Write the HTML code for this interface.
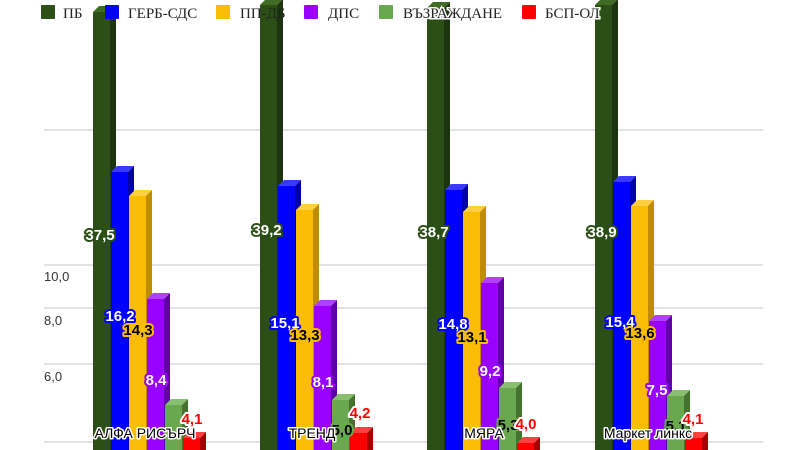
<!DOCTYPE html>
<html><head><meta charset="utf-8"><style>
body{margin:0;background:#fff}
svg{display:block}
.v{font-family:"Liberation Sans",sans-serif;font-size:15px;font-weight:bold;paint-order:stroke;stroke-width:4px;stroke-linejoin:round;text-anchor:middle}
.c{font-family:"Liberation Sans",sans-serif;font-size:14px;fill:#000;stroke:#fff;stroke-width:3px;paint-order:stroke;stroke-linejoin:round;text-anchor:middle}
.lg{font-family:"Liberation Serif",serif;font-size:15px;fill:#222}
.ax{font-family:"Liberation Sans",sans-serif;font-size:13px;fill:#333}
</style></head><body>
<svg width="800" height="450" xmlns="http://www.w3.org/2000/svg">
<g stroke="#d9d9d9" stroke-width="1.5">
<line x1="44" y1="130" x2="763" y2="130"/><line x1="44" y1="265" x2="763" y2="265"/>
<line x1="44" y1="308" x2="763" y2="308"/><line x1="44" y1="364" x2="763" y2="364"/>
<line x1="44" y1="442" x2="763" y2="442"/>
</g>
<text class="ax" x="44" y="281">10,0</text><text class="ax" x="44" y="325">8,0</text><text class="ax" x="44" y="381">6,0</text>

<g>
<polygon points="93,12 99,6 116,6 110,12" fill="#3f6b22"/><polygon points="110,12 116,6 116,450 110,450" fill="#1c3510"/><rect x="93" y="12" width="17" height="438" fill="#2b4f16"/>
<polygon points="111,172 117,166 134,166 128,172" fill="#3a3aff"/><polygon points="128,172 134,166 134,450 128,450" fill="#0000a8"/><rect x="111" y="172" width="17" height="278" fill="#0000ff"/>
<polygon points="129,196 135,190 152,190 146,196" fill="#ffcf40"/><polygon points="146,196 152,190 152,450 146,450" fill="#c08c00"/><rect x="129" y="196" width="17" height="254" fill="#fbbc04"/>
<polygon points="147,299 153,293 170,293 164,299" fill="#b040ff"/><polygon points="164,299 170,293 170,450 164,450" fill="#6200a8"/><rect x="147" y="299" width="17" height="151" fill="#9900ff"/>
<polygon points="165,405 171,399 188,399 182,405" fill="#88c070"/><polygon points="182,405 188,399 188,450 182,450" fill="#45722f"/><rect x="165" y="405" width="17" height="45" fill="#6aa84f"/>
<polygon points="183,438 189,432 206,432 200,438" fill="#ff4040"/><polygon points="200,438 206,432 206,450 200,450" fill="#a80000"/><rect x="183" y="438" width="17" height="12" fill="#ff0000"/>
</g>
<g>
<polygon points="260,5 266,-1 283,-1 277,5" fill="#3f6b22"/><polygon points="277,5 283,-1 283,450 277,450" fill="#1c3510"/><rect x="260" y="5" width="17" height="445" fill="#2b4f16"/>
<polygon points="278,186 284,180 301,180 295,186" fill="#3a3aff"/><polygon points="295,186 301,180 301,450 295,450" fill="#0000a8"/><rect x="278" y="186" width="17" height="264" fill="#0000ff"/>
<polygon points="296,210 302,204 319,204 313,210" fill="#ffcf40"/><polygon points="313,210 319,204 319,450 313,450" fill="#c08c00"/><rect x="296" y="210" width="17" height="240" fill="#fbbc04"/>
<polygon points="314,306 320,300 337,300 331,306" fill="#b040ff"/><polygon points="331,306 337,300 337,450 331,450" fill="#6200a8"/><rect x="314" y="306" width="17" height="144" fill="#9900ff"/>
<polygon points="332,400 338,394 355,394 349,400" fill="#88c070"/><polygon points="349,400 355,394 355,450 349,450" fill="#45722f"/><rect x="332" y="400" width="17" height="50" fill="#6aa84f"/>
<polygon points="350,433 356,427 373,427 367,433" fill="#ff4040"/><polygon points="367,433 373,427 373,450 367,450" fill="#a80000"/><rect x="350" y="433" width="17" height="17" fill="#ff0000"/>
</g>
<g>
<polygon points="427,8 433,2 450,2 444,8" fill="#3f6b22"/><polygon points="444,8 450,2 450,450 444,450" fill="#1c3510"/><rect x="427" y="8" width="17" height="442" fill="#2b4f16"/>
<polygon points="445,190 451,184 468,184 462,190" fill="#3a3aff"/><polygon points="462,190 468,184 468,450 462,450" fill="#0000a8"/><rect x="445" y="190" width="17" height="260" fill="#0000ff"/>
<polygon points="463,212 469,206 486,206 480,212" fill="#ffcf40"/><polygon points="480,212 486,206 486,450 480,450" fill="#c08c00"/><rect x="463" y="212" width="17" height="238" fill="#fbbc04"/>
<polygon points="481,283 487,277 504,277 498,283" fill="#b040ff"/><polygon points="498,283 504,277 504,450 498,450" fill="#6200a8"/><rect x="481" y="283" width="17" height="167" fill="#9900ff"/>
<polygon points="499,388 505,382 522,382 516,388" fill="#88c070"/><polygon points="516,388 522,382 522,450 516,450" fill="#45722f"/><rect x="499" y="388" width="17" height="62" fill="#6aa84f"/>
<polygon points="517,443 523,437 540,437 534,443" fill="#ff4040"/><polygon points="534,443 540,437 540,450 534,450" fill="#a80000"/><rect x="517" y="443" width="17" height="7" fill="#ff0000"/>
</g>
<g>
<polygon points="595,5 601,-1 618,-1 612,5" fill="#3f6b22"/><polygon points="612,5 618,-1 618,450 612,450" fill="#1c3510"/><rect x="595" y="5" width="17" height="445" fill="#2b4f16"/>
<polygon points="613,182 619,176 636,176 630,182" fill="#3a3aff"/><polygon points="630,182 636,176 636,450 630,450" fill="#0000a8"/><rect x="613" y="182" width="17" height="268" fill="#0000ff"/>
<polygon points="631,206 637,200 654,200 648,206" fill="#ffcf40"/><polygon points="648,206 654,200 654,450 648,450" fill="#c08c00"/><rect x="631" y="206" width="17" height="244" fill="#fbbc04"/>
<polygon points="649,321 655,315 672,315 666,321" fill="#b040ff"/><polygon points="666,321 672,315 672,450 666,450" fill="#6200a8"/><rect x="649" y="321" width="17" height="129" fill="#9900ff"/>
<polygon points="667,396 673,390 690,390 684,396" fill="#88c070"/><polygon points="684,396 690,390 690,450 684,450" fill="#45722f"/><rect x="667" y="396" width="17" height="54" fill="#6aa84f"/>
<polygon points="685,438 691,432 708,432 702,438" fill="#ff4040"/><polygon points="702,438 708,432 708,450 702,450" fill="#a80000"/><rect x="685" y="438" width="17" height="12" fill="#ff0000"/>
</g>

<g class="v">
<text x="100" y="240" fill="#fff" stroke="#2b4f16">37,5</text>
<text x="120" y="321" fill="#fff" stroke="#0000ff">16,2</text>
<text x="138" y="335" fill="#000" stroke="#fbbc04">14,3</text>
<text x="156" y="385" fill="#fff" stroke="#9900ff">8,4</text>
<text x="192" y="424" fill="#ff0000" stroke="#fff">4,1</text>

<text x="267" y="235" fill="#fff" stroke="#2b4f16">39,2</text>
<text x="285" y="328" fill="#fff" stroke="#0000ff">15,1</text>
<text x="305" y="340" fill="#000" stroke="#fbbc04">13,3</text>
<text x="323" y="387" fill="#fff" stroke="#9900ff">8,1</text>
<text x="342" y="435" fill="#000" stroke="#6aa84f">5,0</text>
<text x="360" y="418" fill="#ff0000" stroke="#fff">4,2</text>

<text x="434" y="237" fill="#fff" stroke="#2b4f16">38,7</text>
<text x="453" y="329" fill="#fff" stroke="#0000ff">14,8</text>
<text x="472" y="342" fill="#000" stroke="#fbbc04">13,1</text>
<text x="490" y="376" fill="#fff" stroke="#9900ff">9,2</text>
<text x="508" y="430" fill="#000" stroke="#6aa84f">5,3</text>
<text x="526" y="429" fill="#ff0000" stroke="#fff">4,0</text>

<text x="602" y="237" fill="#fff" stroke="#2b4f16">38,9</text>
<text x="620" y="327" fill="#fff" stroke="#0000ff">15,4</text>
<text x="640" y="338" fill="#000" stroke="#fbbc04">13,6</text>
<text x="657" y="395" fill="#fff" stroke="#9900ff">7,5</text>
<text x="676" y="431" fill="#000" stroke="#6aa84f">5,1</text>
<text x="693" y="424" fill="#ff0000" stroke="#fff">4,1</text>
</g>
<g class="c">
<text x="145" y="438">АЛФА РИСЪРЧ</text>
<text x="312" y="438">ТРЕНД</text>
<text x="484" y="438">МЯРА</text>
<text x="648" y="438">Маркет линкс</text>
</g>

<rect x="41" y="5" width="14" height="14" rx="1" fill="#2b4f16"/><text class="lg" x="63" y="18">ПБ</text>
<rect x="105" y="5" width="14" height="14" rx="1" fill="#0000ff"/><text class="lg" x="128" y="18">ГЕРБ-СДС</text>
<rect x="216" y="5" width="14" height="14" rx="1" fill="#fbbc04"/><text class="lg" x="240" y="18">ПП-ДБ</text>
<rect x="304" y="5" width="14" height="14" rx="1" fill="#9900ff"/><text class="lg" x="328" y="18">ДПС</text>
<rect x="379" y="5" width="14" height="14" rx="1" fill="#6aa84f"/><text class="lg" x="403" y="18" stroke="#fff" stroke-width="3" paint-order="stroke">ВЪЗРАЖДАНЕ</text>
<rect x="522" y="5" width="14" height="14" rx="1" fill="#ff0000"/><text class="lg" x="545" y="18" stroke="#fff" stroke-width="3" paint-order="stroke">БСП-ОЛ</text>
</svg>
</body></html>
